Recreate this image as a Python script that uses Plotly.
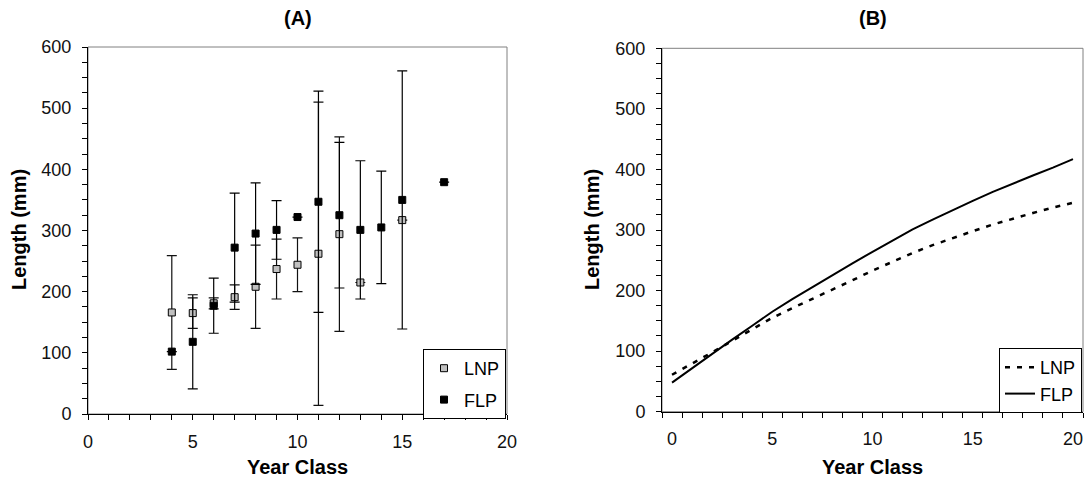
import plotly.graph_objects as go

# ---------------- Panel A data (mean ± error) ----------------
years_lnp = [4, 5, 6, 7, 8, 9, 10, 11, 12, 13, 15]
lnp_mean = [166, 165, 181, 191, 208, 237, 244, 262, 294, 215, 317]
lnp_err = [93, 25, 9, 20, 68, 49, 44, 248, 159, 0, 0]

years_flp = [4, 5, 6, 7, 8, 9, 10, 11, 12, 13, 14, 15, 17]
flp_mean = [102, 118, 177, 272, 295, 301, 322, 347, 325, 301, 305, 350, 379]
flp_err = [0, 77, 45, 89, 83, 48, 0, 181, 119, 113, 92, 211, 0]

# ---------------- Panel B data (growth curves) ----------------
ages = list(range(21))
lnp_curve = [61, 79, 98, 117, 136, 155, 171, 186, 201, 217, 233, 248, 262, 275, 287, 298, 309, 319, 328, 337, 345]
flp_curve = [48, 72, 96, 119, 142, 165, 186, 206, 226, 245, 264, 283, 301, 317, 333, 348, 363, 377, 390, 403, 417]

x_ticks_a = [0, 5, 10, 15, 20]
x_ticks_b = [0, 5, 10, 15, 20]
y_ticks = [0, 100, 200, 300, 400, 500, 600]

W, H = 1089, 487
FONT = "Liberation Sans, Arial, sans-serif"

fig = go.Figure()

fig.add_trace(go.Scatter(
    x=years_lnp, y=lnp_mean, mode="markers", name="LNP",
    marker=dict(symbol="square", size=7, color="#C0C0C0", line=dict(color="black", width=1)),
    error_y=dict(type="data", array=lnp_err, symmetric=True, color="#111111", thickness=1.2, width=5),
    xaxis="x", yaxis="y", legend="legend", legendgroup="a1",
))
fig.add_trace(go.Scatter(
    x=years_flp, y=flp_mean, mode="markers", name="FLP",
    marker=dict(symbol="square", size=7, color="black", line=dict(color="black", width=1)),
    error_y=dict(type="data", array=flp_err, symmetric=True, color="black", thickness=1.2, width=5),
    xaxis="x", yaxis="y", legend="legend", legendgroup="a2",
))

fig.add_trace(go.Scatter(
    x=ages, y=lnp_curve, mode="lines", name="LNP",
    line=dict(color="black", width=2.5, dash="5px,7px"),
    xaxis="x2", yaxis="y2", legend="legend2",
))
fig.add_trace(go.Scatter(
    x=ages, y=flp_curve, mode="lines", name="FLP",
    line=dict(color="black", width=2),
    xaxis="x2", yaxis="y2", legend="legend2",
))

axis_common = dict(
    showline=True, linecolor="black", linewidth=1, showgrid=False, zeroline=False,
    tickfont=dict(family=FONT, size=18, color="#111111"),
    ticks="outside", ticklen=5, tickcolor="black", tickwidth=1, automargin=False,
)

fig.update_layout(
    width=W, height=H,
    margin=dict(l=0, r=0, t=0, b=0, autoexpand=False),
    paper_bgcolor="white", plot_bgcolor="white",
    font=dict(family=FONT, color="black"),
    xaxis=dict(domain=[88 / W, 507 / W], range=[0, 20], tickvals=x_ticks_a,
               minor=dict(ticks="outside", dtick=1, ticklen=5, tickcolor="black"),
               ticklabelstandoff=6, anchor="y", **axis_common),
    yaxis=dict(domain=[1 - 414 / H, 1 - 47 / H], range=[0, 600], tickvals=y_ticks,
               minor=dict(ticks="outside", dtick=25, ticklen=5, tickcolor="black"),
               ticklabelstandoff=7, anchor="x", **axis_common),
    xaxis2=dict(domain=[662 / W, 1083 / W], range=[-0.5, 20.5], tickvals=x_ticks_b,
                showline=True, linecolor="black", linewidth=1, showgrid=False, zeroline=False,
                tickfont=dict(family=FONT, size=18, color="#111111"),
                ticks="", ticklabelstandoff=11, automargin=False,
                minor=dict(ticks="outside", tick0=0.5, dtick=1, ticklen=5, tickcolor="black"),
                anchor="y2"),
    yaxis2=dict(domain=[1 - 411.7 / H, 1 - 48.3 / H], range=[0, 600], tickvals=y_ticks,
                minor=dict(ticks="outside", dtick=25, ticklen=5, tickcolor="black"),
                ticklabelstandoff=7, anchor="x2", **axis_common),
    legend=dict(x=506 / W, y=1 - 349 / H, xanchor="right", yanchor="top",
                bordercolor="black", borderwidth=1, bgcolor="white",
                font=dict(family=FONT, size=18), tracegroupgap=5),
    legend2=dict(x=1082 / W, y=1 - 348 / H, xanchor="right", yanchor="top",
                 bordercolor="black", borderwidth=1, bgcolor="white",
                 font=dict(family=FONT, size=18), tracegroupgap=0),
    showlegend=True,
)

# gray plot-area borders (top/right) like the original
for xr, yr in (("x domain", "y domain"), ("x2 domain", "y2 domain")):
    fig.add_shape(type="rect", xref=xr, yref=yr, x0=0, x1=1, y0=0, y1=1,
                  line=dict(color="#808080", width=1), layer="below")

title_font = dict(family=FONT, size=20, color="black")
annotations = [
    dict(text="<b>(A)</b>", x=297.5 / W, y=1 - 18 / H),
    dict(text="<b>(B)</b>", x=872.5 / W, y=1 - 18 / H),
    dict(text="<b>Year Class</b>", x=297.5 / W, y=1 - 467 / H),
    dict(text="<b>Year Class</b>", x=872.5 / W, y=1 - 467 / H),
    dict(text="<b>Length (mm)</b>", x=19 / W, y=1 - 230 / H, textangle=-90),
    dict(text="<b>Length (mm)</b>", x=592 / W, y=1 - 230 / H, textangle=-90),
]
for a in annotations:
    fig.add_annotation(xref="paper", yref="paper", showarrow=False,
                       xanchor="center", yanchor="middle", font=title_font, **a)

fig.write_html("out.html",
               config={"displayModeBar": False},
               post_script="document.body.style.margin='0';document.body.style.overflow='hidden';")
